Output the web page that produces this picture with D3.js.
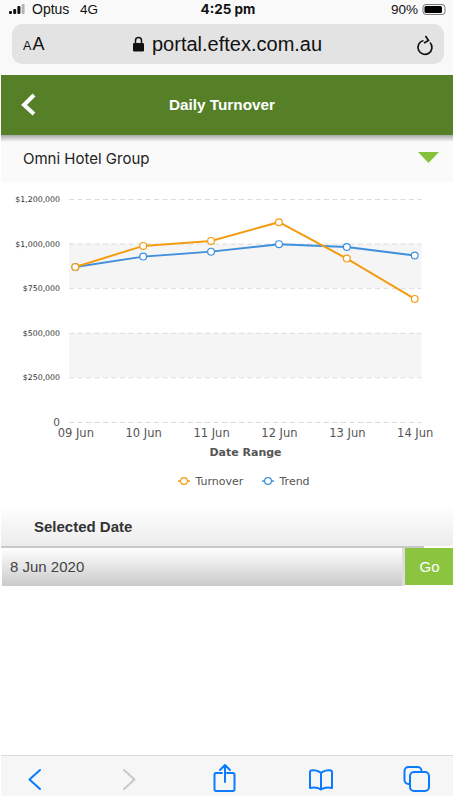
<!DOCTYPE html>
<html>
<head>
<meta charset="utf-8">
<script src="https://cdn.jsdelivr.net/npm/d3@7"></script>
<style>
html, body { margin: 0; padding: 0; background: #fff; }
svg { display: block; }
</style>
</head>
<body>
<svg id="page" width="453" height="796"></svg>
<script>
const dates = ["09 Jun", "10 Jun", "11 Jun", "12 Jun", "13 Jun", "14 Jun"]
const turnover = [869000, 987000, 1012000, 1096000, 916000, 690000]
const trend = [869000, 927000, 955000, 997000, 981000, 933000]
const yTicks = [0, 250000, 500000, 750000, 1000000, 1200000]
const bands = [[750000, 1000000], [250000, 500000]]
const seriesNames = ["Turnover", "Trend"]
const seriesColours = ["#f39c12", "#3f8fdc"]

const svg = d3.select("#page")
const defs = svg.append("defs")

function gradient(id, from, to) {
    const g = defs.append("linearGradient").attr("id", id).attr("x1", 0).attr("x2", 0).attr("y1", 0).attr("y2", 1)
    g.append("stop").attr("offset", "0%").attr("stop-color", from)
    g.append("stop").attr("offset", "100%").attr("stop-color", to)
}
gradient("labelGrad", "#ffffff", "#ececec")
gradient("inputGrad", "#ffffff", "#cacaca")
gradient("shadowGrad", "#a8a8a8", "#fafafa")

function label(x, y, str, size, opts = {}) {
    return svg.append("text")
        .attr("x", x).attr("y", y)
        .attr("font-family", opts.font || "Inter, sans-serif")
        .attr("font-size", size)
        .attr("font-weight", opts.weight || 400)
        .attr("fill", opts.fill || "#111")
        .attr("text-anchor", opts.anchor || "start")
        .text(str)
}

// phone status bar and address bar
svg.append("rect").attr("width", 453).attr("height", 75).attr("fill", "#f9f9f9")
svg.selectAll(".signal").data([3, 5, 8, 10]).join("rect")
    .attr("x", (d, i) => 9 + i * 4.2).attr("y", d => 14 - d).attr("width", 3).attr("height", d => d).attr("rx", 1)
    .attr("fill", (d, i) => i < 3 ? "#111" : "#b5b5b5")
label(32, 14, "Optus", 14, { font: "Liberation Sans" })
label(80, 14, "4G", 13.5, { font: "Liberation Sans" })
label(228, 14, "4:25 pm", 13.5, { weight: 700, anchor: "middle" })
label(418, 14, "90%", 13.5, { anchor: "end", font: "Liberation Sans" })
svg.append("rect").attr("x", 423).attr("y", 4.5).attr("width", 22).attr("height", 10).attr("rx", 3).attr("fill", "none").attr("stroke", "#777")
svg.append("rect").attr("x", 424.5).attr("y", 6).attr("width", 17.5).attr("height", 7).attr("rx", 1.5).attr("fill", "#000")
svg.append("rect").attr("x", 12).attr("y", 24).attr("width", 432).attr("height", 40).attr("rx", 10).attr("fill", "#e3e3e3")
label(23, 50, "A", 12.5, { font: "Liberation Sans" })
label(32.5, 50, "A", 18, { font: "Liberation Sans" })
svg.append("rect").attr("x", 133).attr("y", 43).attr("width", 11).attr("height", 8.5).attr("rx", 1.2).attr("fill", "#111")
svg.append("path").attr("d", "M135.5,43 v-2.5 a3,3 0 0 1 6,0 v2.5").attr("fill", "none").attr("stroke", "#111").attr("stroke-width", 1.5)
label(152, 51, "portal.eftex.com.au", 20, { font: "Liberation Sans", fill: "#111" })
svg.append("path").attr("d", "M423.5,40.5 a7,7 0 1 0 6.5,2 M425.5,36 l3,4.5 -4.5,2.5").attr("fill", "none").attr("stroke", "#111").attr("stroke-width", 1.7)

// green title bar
svg.append("rect").attr("x", 1).attr("y", 75).attr("width", 452).attr("height", 60).attr("fill", "#568028")
svg.append("path").attr("d", "M34,95 L24,105 L34,114").attr("fill", "none").attr("stroke", "#fff").attr("stroke-width", 4)
label(222, 110, "Daily Turnover", 15.3, { fill: "#fff", weight: 700, anchor: "middle", font: "Liberation Sans" })

// group dropdown
svg.append("rect").attr("x", 1).attr("y", 135).attr("width", 452).attr("height", 47).attr("fill", "#fafafa")
svg.append("rect").attr("x", 1).attr("y", 135).attr("width", 452).attr("height", 7).attr("fill", "url(#shadowGrad)")
label(23, 164, "Omni Hotel Group", 15, { font: "Inter", fill: "#222" })
svg.append("path").attr("d", "M418,152 h21 l-10.5,11 z").attr("fill", "#86c23c")

// chart
const x = d3.scalePoint().domain(dates).range([75.3, 414.7])
// the axis ticks sit at equal distances, so the y scale is piecewise
const y = d3.scaleLinear().domain(yTicks).range(yTicks.map((d, i) => 422 - i * 44.6))
const plotLeft = 69, plotRight = 421.5

svg.append("g").selectAll("rect").data(bands).join("rect")
    .attr("x", plotLeft).attr("width", plotRight - plotLeft)
    .attr("y", d => y(d[1])).attr("height", d => y(d[0]) - y(d[1]))
    .attr("fill", "#f5f5f5")

const yAxis = svg.append("g").attr("transform", `translate(${plotLeft},0)`)
    .call(d3.axisLeft(y).tickValues(yTicks)
        .tickSize(-(plotRight - plotLeft)).tickPadding(9)
        .tickFormat(d => d === 0 ? "0" : "$" + d3.format(",")(d)))
yAxis.select(".domain").remove()
yAxis.selectAll("line").attr("stroke", "#dcdcdc").attr("stroke-dasharray", "5 3.5")
yAxis.selectAll("text").attr("font-family", "DejaVu Sans").attr("font-size", 7.8).attr("fill", "#333")
yAxis.selectAll(".tick").filter(d => d === 0).select("text").attr("font-size", 10.5).attr("fill", "#555")

const xAxis = svg.append("g").attr("transform", "translate(0,422)")
    .call(d3.axisBottom(x).tickSize(0).tickPadding(7))
xAxis.select(".domain").remove()
xAxis.selectAll("text").attr("font-family", "DejaVu Sans").attr("font-size", 11.5).attr("fill", "#555")

label(245.5, 456, "Date Range", 11, { font: "DejaVu Sans", weight: 700, fill: "#555", anchor: "middle" })

const line = d3.line().x((d, i) => x(dates[i])).y(d => y(d))
const series = svg.selectAll(".series").data([trend, turnover]).join("g").attr("class", "series")
series.append("path")
    .attr("d", d => line(d)).attr("fill", "none")
    .attr("stroke", (d, i) => [seriesColours[1], seriesColours[0]][i]).attr("stroke-width", 2)
series.each(function(d, i) {
    d3.select(this).selectAll("circle").data(d).join("circle")
        .attr("cx", (v, j) => x(dates[j])).attr("cy", v => y(v)).attr("r", 3.4)
        .attr("fill", "#fff").attr("stroke-width", 1.2)
        .attr("stroke", [seriesColours[1], seriesColours[0]][i])
})

// legend
const legend = svg.selectAll(".legend").data(seriesNames).join("g").attr("class", "legend")
    .attr("transform", (d, i) => `translate(${[184, 268][i]},481)`)
legend.append("line").attr("x1", -6).attr("x2", 6).attr("stroke", (d, i) => seriesColours[i]).attr("stroke-width", 1.5)
legend.append("circle").attr("r", 3.4).attr("fill", "#fff").attr("stroke", (d, i) => seriesColours[i]).attr("stroke-width", 1.2)
legend.append("text").attr("x", 11.5).attr("y", 4)
    .attr("font-family", "DejaVu Sans").attr("font-size", 11).attr("fill", "#555")
    .text(d => d)

// selected date form
svg.append("rect").attr("x", 1).attr("y", 505).attr("width", 452).attr("height", 41).attr("fill", "url(#labelGrad)")
label(34, 532, "Selected Date", 15, { font: "Liberation Sans", weight: 700, fill: "#333" })
svg.append("rect").attr("x", 1).attr("y", 546).attr("width", 423).attr("height", 2).attr("fill", "#c8c8c8")
svg.append("rect").attr("x", 2).attr("y", 548).attr("width", 400).attr("height", 38).attr("fill", "url(#inputGrad)")
svg.append("rect").attr("x", 402).attr("y", 548).attr("width", 3).attr("height", 38).attr("fill", "#dedede")
svg.append("rect").attr("x", 405).attr("y", 548).attr("width", 48).attr("height", 37).attr("fill", "#8bc53f")
label(10, 572, "8 Jun 2020", 15, { font: "Liberation Sans", fill: "#444" })
label(429.5, 572, "Go", 15, { font: "Liberation Sans", fill: "#fff", anchor: "middle" })

// browser toolbar
svg.append("rect").attr("x", 1).attr("y", 755).attr("width", 452).attr("height", 41).attr("fill", "#f6f6f6")
svg.append("rect").attr("x", 1).attr("y", 755).attr("width", 452).attr("height", 1).attr("fill", "#dcdcdc")
const blue = "#0a7aff"
function icon(d, colour) {
    svg.append("path").attr("d", d).attr("fill", "none").attr("stroke", colour).attr("stroke-width", 2)
        .attr("stroke-linecap", "round").attr("stroke-linejoin", "round")
}
icon("M40,770 L29.5,779.5 L40,789", blue)
icon("M124,770 L134.5,779.5 L124,789", "#c8c8c8")
icon("M222,773 h-6 a1.5,1.5 0 0 0 -1.5,1.5 v15 a1.5,1.5 0 0 0 1.5,1.5 h17 a1.5,1.5 0 0 0 1.5,-1.5 v-15 a1.5,1.5 0 0 0 -1.5,-1.5 h-6 M225,782 v-16 M220,770 l5,-5 5,5", blue)
icon("M321,773 c-2,-2 -7,-3.5 -10,-2.5 a1.5,1.5 0 0 0 -1,1.5 v16 c4,-1 8,-0.5 11,1.5 c3,-2 7,-2.5 11,-1.5 v-16 a1.5,1.5 0 0 0 -1,-1.5 c-3,-1 -8,0.5 -10,2.5 v16.5", blue)
icon("M410,784 h-1.5 a4,4 0 0 1 -4,-4 v-9 a4,4 0 0 1 4,-4 h9 a4,4 0 0 1 4,4 v1", blue)
svg.append("rect").attr("x", 410).attr("y", 772).attr("width", 19).attr("height", 19).attr("rx", 4).attr("fill", "none").attr("stroke", blue).attr("stroke-width", 2)
</script>
</body>
</html>
